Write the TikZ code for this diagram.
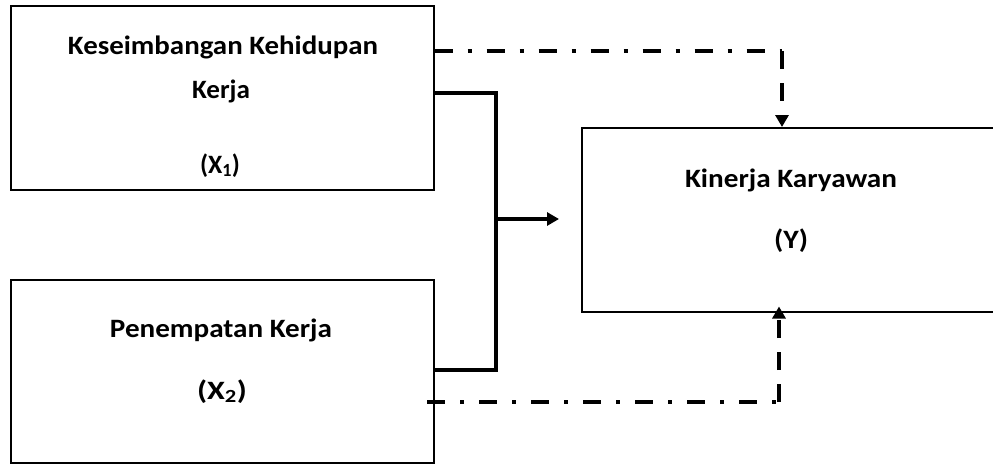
\documentclass[tikz,border=0pt]{standalone}
\usepackage{fontspec}
\setmainfont{Carlito}
\usetikzlibrary{arrows.meta}
\newcommand\fitw[2]{\resizebox{#1}{\height}{#2}}
\begin{document}
\begin{tikzpicture}[x=1pt,y=-1pt,
  boxnode/.style={draw=black,line width=1.5pt,rectangle,inner sep=0pt,anchor=north west},
  lbl/.style={inner sep=0pt,anchor=base,font=\fontsize{26.5}{30}\selectfont\bfseries},
  solidcon/.style={line width=3.6pt,line cap=butt,line join=miter},
  dashdotcon/.style={line width=4pt,dash pattern=on 18pt off 15pt on 4pt off 15pt},
  dashcon/.style={line width=4pt,dash pattern=on 18pt off 14pt},
  tip/.style={-{Triangle[length=12pt,width=13pt]}}
]
\useasboundingbox (0,0) rectangle (993,464);
\begin{scope}
\clip (0,0) rectangle (993,464);
% boxes
\node[boxnode,minimum width=423pt,minimum height=184pt] (x1) at (10,5) {};
\node[boxnode,minimum width=423pt,minimum height=183pt] (x2) at (10,279) {};
\node[boxnode,minimum width=440pt,minimum height=184pt] (y) at (581,127) {};
% texts
\node[lbl] (t1a) at (223,54) {\fitw{310pt}{Keseimbangan Kehidupan}};
\node[lbl] (t1b) at (221,98) {\fitw{58pt}{Kerja}};
\node[lbl] (t1c) at (220,173) {\fitw{40pt}{(X\textsubscript{1})}};
\node[lbl] (t2a) at (221,337) {\fitw{222pt}{Penempatan Kerja}};
\node[lbl] (t2b) at (222,399) {\fitw{50pt}{(X\textsubscript{2})}};
\node[lbl] (t3a) at (791,187) {\fitw{212pt}{Kinerja Karyawan}};
\node[lbl] (t3b) at (791,248) {\fitw{34pt}{(Y)}};
% coordinates for connectors
\coordinate (j1) at (496,93);
\coordinate (j2) at (496,370);
\coordinate (jm) at (496,219);
\coordinate (am) at (559,219);
\coordinate (c1) at (782,51);
\coordinate (c2) at (779,402);
\coordinate (s2) at (427,402);
% solid merging connector
\draw[solidcon] (x1.east |- j1) -- (j1) -- (j2) -- (x2.east |- j2);
\draw[solidcon,tip] (jm) -- (am);
% dash-dot connectors
\draw[dashdotcon] (x1.east |- c1) -- (c1);
\draw[dashcon,tip] (c1) -- (c1 |- y.north);
\draw[dashdotcon] (s2) -- (c2);
\draw[dashcon,tip] (c2) -- ([yshift=6pt]c2 |- y.south);
\end{scope}
\end{tikzpicture}
\end{document}
